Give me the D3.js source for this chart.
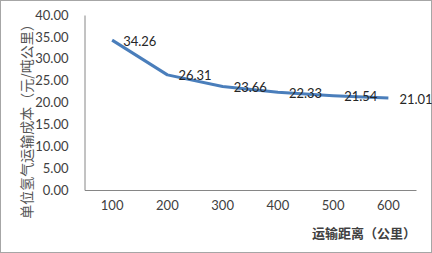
<!DOCTYPE html>
<html>
<head>
<meta charset="utf-8">
<script src="https://cdn.jsdelivr.net/npm/d3@7"></script>
<style>
  html, body { margin: 0; padding: 0; background: #fff; }
  svg { display: block; }
</style>
</head>
<body>
<div id="chart"></div>
<script>
// chart values
var distances = ["100", "200", "300", "400", "500", "600"];
var costs = [34.26, 26.31, 23.66, 22.33, 21.54, 21.01];
var y_ticks = [0, 5, 10, 15, 20, 25, 30, 35, 40];
var y_title = "单位氢气运输成本（元/吨公里）";
var x_title = "运输距离（公里）";

var width = 432, height = 253;
var margin = {top: 15, right: 16, bottom: 63, left: 84.5};

var svg = d3.select("#chart").append("svg")
    .attr("width", width)
    .attr("height", height);

// outer frame
svg.append("rect")
    .attr("x", 0.5).attr("y", 0.5)
    .attr("width", width - 1).attr("height", height - 1)
    .attr("fill", "none")
    .attr("stroke", "#a6a6a6");

var plot_w = width - margin.left - margin.right,
    plot_h = height - margin.top - margin.bottom;

var g = svg.append("g")
    .attr("transform", "translate(" + margin.left + "," + margin.top + ")");

var x = d3.scaleBand().domain(distances).range([0, plot_w]);
var y = d3.scaleLinear().domain([0, 40]).range([plot_h, 0]);

var num_font = "Lato, 'Open Sans', sans-serif";

// y axis
var y_axis = g.append("g")
    .call(d3.axisLeft(y).tickValues(y_ticks).tickSize(0).tickPadding(16)
        .tickFormat(d3.format(".2f")));
y_axis.select(".domain").attr("stroke", "#868686");
y_axis.selectAll("text")
    .attr("font-family", num_font)
    .attr("font-size", "13px")
    .attr("fill", "#404040");

// x axis
var x_axis = g.append("g")
    .attr("transform", "translate(0," + plot_h + ")")
    .call(d3.axisBottom(x).tickSize(0).tickPadding(11));
x_axis.select(".domain").attr("stroke", "#868686");
x_axis.selectAll("text")
    .attr("font-family", num_font)
    .attr("font-size", "13px")
    .attr("fill", "#404040");

// line
var line = d3.line()
    .x(function(d, i) { return x(distances[i]) + x.bandwidth() / 2; })
    .y(function(d) { return y(d); });

g.append("path")
    .datum(costs)
    .attr("fill", "none")
    .attr("stroke", "#4a7ebb")
    .attr("stroke-width", 3)
    .attr("stroke-linejoin", "round")
    .attr("d", line);

// data labels
g.selectAll(".label")
    .data(costs)
    .enter()
    .append("text")
        .attr("class", "label")
        .attr("x", function(d, i) { return x(distances[i]) + x.bandwidth() / 2 + 11; })
        .attr("y", function(d) { return y(d) + 1; })
        .attr("dy", "0.35em")
        .attr("font-family", num_font)
        .attr("font-size", "13px")
        .attr("fill", "#262626")
        .text(function(d) { return d.toFixed(2); });

// axis titles
svg.append("text")
    .attr("transform", "translate(27,118) rotate(-90)")
    .attr("text-anchor", "middle")
    .attr("dy", "0.35em")
    .attr("font-family", "'Noto Sans CJK SC', sans-serif")
    .attr("font-size", "14px")
    .attr("fill", "#555")
    .text(y_title);

svg.append("text")
    .attr("x", margin.left + plot_w)
    .attr("y", 233)
    .attr("dy", "0.35em")
    .attr("text-anchor", "end")
    .attr("font-family", "'Noto Sans CJK SC', sans-serif")
    .attr("font-size", "13px")
    .attr("font-weight", "bold")
    .attr("fill", "#404040")
    .text(x_title);
</script>
</body>
</html>
